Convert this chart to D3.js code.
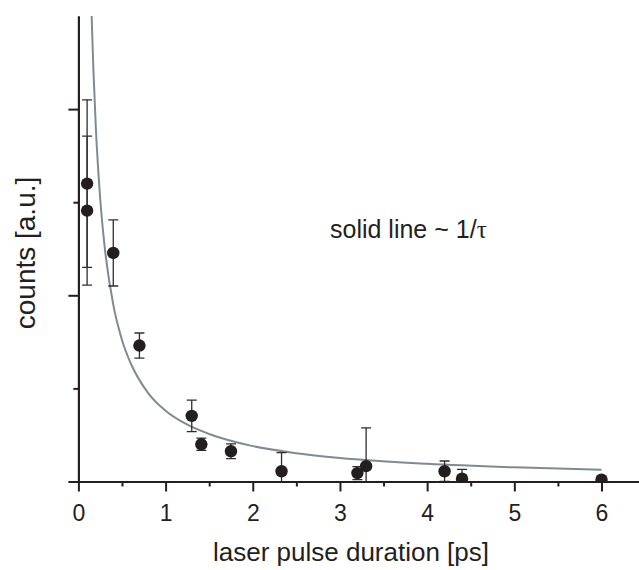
<!DOCTYPE html>
<html>
<head>
<meta charset="utf-8">
<script src="https://cdn.jsdelivr.net/npm/d3@7"></script>
<style>
  body { margin: 0; background: #fff; }
  svg { display: block; font-family: "Liberation Sans", Arial, sans-serif; }
</style>
</head>
<body>
<svg id="chart"></svg>
<script>
// measured points (pulse duration in ps, counts in a.u., symmetric error)
var pulseDuration = [0.1, 0.1, 0.4, 0.7, 1.3, 1.41, 1.75, 2.33, 3.2, 3.3, 4.2, 4.4, 6.0];
var counts = [3.20, 2.91, 2.455, 1.46, 0.705, 0.40, 0.325, 0.11, 0.09, 0.165, 0.11, 0.03, 0.02];
var countErr = [0.90, 0.80, 0.355, 0.135, 0.17, 0.065, 0.08, 0.20, 0.07, 0.41, 0.11, 0.10, 0];

// solid line (~ 1/tau)
var fitTau = [0.152, 0.17, 0.2, 0.25, 0.3, 0.4, 0.5, 0.6, 0.8, 1.0, 1.25, 1.5, 2.0, 2.5, 3.0, 4.0, 5.0, 6.0];
var fitCounts = [5.0, 4.47, 3.8, 3.04, 2.53, 1.9, 1.52, 1.27, 0.95, 0.76, 0.61, 0.51, 0.38, 0.304, 0.253, 0.19, 0.152, 0.127];

// axis ticks
var xMajorTicks = [0, 1, 2, 3, 4, 5, 6];
var xMinorTicks = [0.5, 1.5, 2.5, 3.5, 4.5, 5.5];
var yMajorTicks = [0, 2, 4];
var yMinorTicks = [1, 3];

var svgWidth = 639;
var svgHeight = 570;
var plotLeft = 78.4;
var plotBottom = 481.5;
var plotTop = 16;
var ink = "#231f20";

var svg = d3.select("#chart")
  .attr("width", svgWidth)
  .attr("height", svgHeight);

var xScale = d3.scaleLinear()
  .domain([0, 6.43])
  .range([plotLeft, svgWidth]);

var yScale = d3.scaleLinear()
  .domain([0, 5])
  .range([plotBottom, plotTop]);

// clip marks at the x axis
svg.append("clipPath")
  .attr("id", "plotClip")
  .append("rect")
  .attr("x", plotLeft)
  .attr("y", 0)
  .attr("width", svgWidth - plotLeft)
  .attr("height", plotBottom);

var plot = svg.append("g").attr("clip-path", "url(#plotClip)");

// ==================== //
// ***** FIT LINE ***** //
// ==================== //

var fitData = fitTau.map(function (t, i) { return [t, fitCounts[i]]; });

plot.append("path")
  .datum(fitData)
  .attr("fill", "none")
  .attr("stroke", "#7f8b94")
  .attr("stroke-width", 2)
  .attr("d", d3.line()
    .x(function (d) { return xScale(d[0]); })
    .y(function (d) { return yScale(d[1]); })
    .curve(d3.curveMonotoneX));

// ====================== //
// ***** ERROR BARS ***** //
// ====================== //

var points = pulseDuration.map(function (t, i) {
  return { t: t, c: counts[i], e: countErr[i] };
});

var bars = plot.selectAll("g.err")
  .data(points.filter(function (d) { return d.e > 0; }))
  .enter()
  .append("g")
  .attr("class", "err")
  .attr("stroke", "#2e2e2e")
  .attr("stroke-width", 1.3);

bars.append("line")
  .attr("x1", function (d) { return xScale(d.t); })
  .attr("x2", function (d) { return xScale(d.t); })
  .attr("y1", function (d) { return yScale(d.c + d.e); })
  .attr("y2", function (d) { return yScale(d.c - d.e); });

bars.selectAll("line.cap")
  .data(function (d) { return [[d.t, d.c + d.e], [d.t, d.c - d.e]]; })
  .enter()
  .append("line")
  .attr("class", "cap")
  .attr("x1", function (d) { return xScale(d[0]) - 5; })
  .attr("x2", function (d) { return xScale(d[0]) + 5; })
  .attr("y1", function (d) { return yScale(d[1]); })
  .attr("y2", function (d) { return yScale(d[1]); });

// =================== //
// ***** MARKERS ***** //
// =================== //

plot.selectAll("circle")
  .data(points)
  .enter()
  .append("circle")
  .attr("cx", function (d) { return xScale(d.t); })
  .attr("cy", function (d) { return yScale(d.c); })
  .attr("r", 6.2)
  .attr("fill", ink);

// ================ //
// ***** AXES ***** //
// ================ //

function styleAxis(g) {
  g.selectAll("path, line").attr("stroke", ink).attr("stroke-width", 2);
  g.selectAll("text")
    .attr("fill", ink)
    .style("font-size", "23px")
    .style("font-family", "'Liberation Sans', Arial, sans-serif");
}

// x axis, major ticks with labels
svg.append("g")
  .attr("transform", "translate(0," + plotBottom + ")")
  .call(d3.axisBottom(xScale)
    .tickValues(xMajorTicks)
    .tickSize(10)
    .tickSizeOuter(0)
    .tickPadding(13)
    .tickFormat(d3.format("d")))
  .call(styleAxis);

// x axis, minor ticks
svg.append("g")
  .attr("transform", "translate(0," + plotBottom + ")")
  .call(d3.axisBottom(xScale)
    .tickValues(xMinorTicks)
    .tickSize(5)
    .tickSizeOuter(0)
    .tickFormat(""))
  .call(styleAxis);

// y axis, major ticks, no labels
svg.append("g")
  .attr("transform", "translate(" + plotLeft + ",0)")
  .call(d3.axisLeft(yScale)
    .tickValues(yMajorTicks)
    .tickSize(10)
    .tickSizeOuter(0)
    .tickFormat(""))
  .call(styleAxis);

// y axis, minor ticks
svg.append("g")
  .attr("transform", "translate(" + plotLeft + ",0)")
  .call(d3.axisLeft(yScale)
    .tickValues(yMinorTicks)
    .tickSize(5)
    .tickSizeOuter(0)
    .tickFormat(""))
  .call(styleAxis);

// ================== //
// ***** LABELS ***** //
// ================== //

svg.append("text")
  .attr("x", 351)
  .attr("y", 561)
  .attr("text-anchor", "middle")
  .attr("fill", ink)
  .style("font-size", "26px")
  .text("laser pulse duration [ps]");

svg.append("text")
  .attr("transform", "translate(35,253) rotate(-90)")
  .attr("text-anchor", "middle")
  .attr("fill", ink)
  .style("font-size", "28px")
  .text("counts [a.u.]");

var note = svg.append("text")
  .attr("x", 330)
  .attr("y", 238)
  .attr("fill", ink)
  .style("font-size", "25px");

note.append("tspan").text("solid line ~ 1/");
note.append("tspan")
  .style("font-family", "'Liberation Serif', 'Times New Roman', serif")
  .text("τ");
</script>
</body>
</html>
